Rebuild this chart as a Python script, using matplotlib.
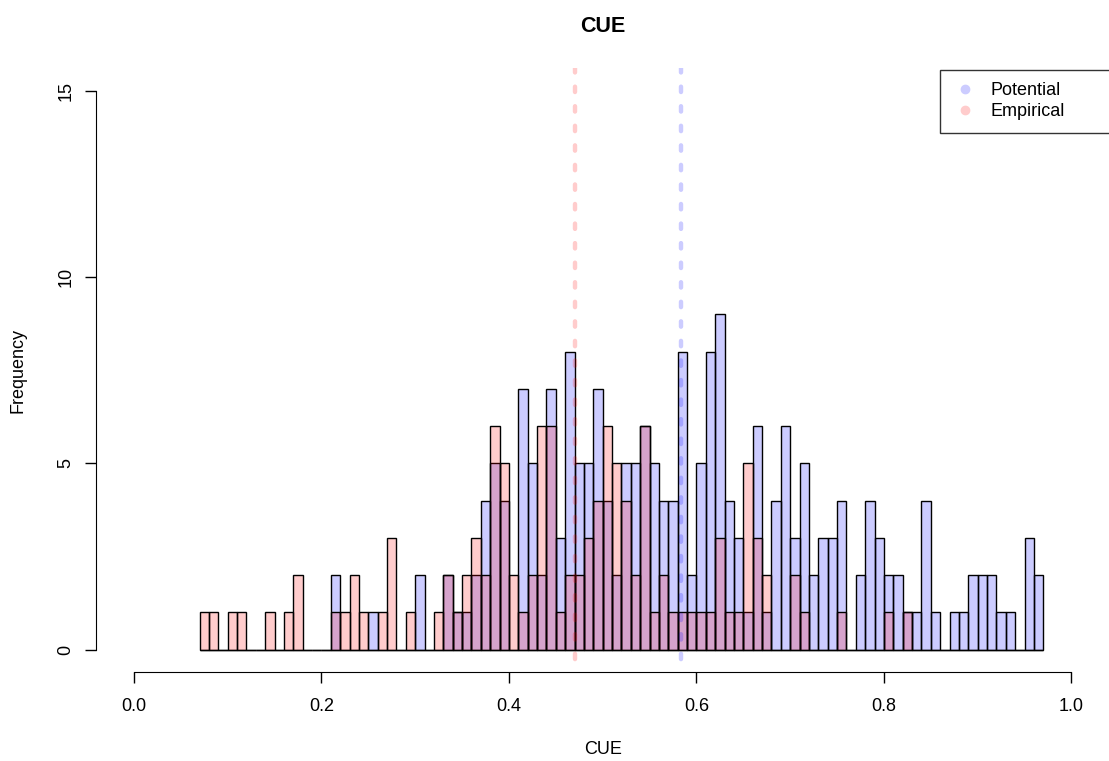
import numpy as np
import matplotlib
matplotlib.use("Agg")
import matplotlib.pyplot as plt
from matplotlib.lines import Line2D

plt.rcParams['font.family'] = ['Liberation Sans', 'DejaVu Sans']

# bin left edges, width 0.01, from 0.07 to 0.96
bin_start = np.round(np.arange(0.07, 0.965, 0.01), 2)

# counts per bin, keyed by bin start in hundredths
potential_counts = {21: 2, 25: 1, 30: 2, 33: 2, 34: 1, 35: 1, 36: 2, 37: 4, 38: 5, 39: 4,
                    41: 7, 42: 5, 43: 2, 44: 7, 45: 3, 46: 8, 47: 5, 48: 5, 49: 7, 50: 4,
                    51: 2, 52: 5, 53: 5, 54: 6, 55: 5, 56: 4, 57: 4, 58: 8, 59: 2, 60: 5,
                    61: 8, 62: 9, 63: 4, 64: 3, 65: 1, 66: 6, 67: 1, 68: 4, 69: 6, 70: 3,
                    71: 5, 72: 2, 73: 3, 74: 3, 75: 4, 77: 2, 78: 4, 79: 3, 80: 2, 81: 2,
                    82: 1, 83: 1, 84: 4, 85: 1, 87: 1, 88: 1, 89: 2, 90: 2, 91: 2, 92: 1,
                    93: 1, 95: 3, 96: 2}
empirical_counts = {7: 1, 8: 1, 10: 1, 11: 1, 14: 1, 16: 1, 17: 2, 21: 1, 22: 1, 23: 2,
                    24: 1, 26: 1, 27: 3, 29: 1, 32: 1, 33: 2, 34: 1, 35: 2, 36: 3, 37: 2,
                    38: 6, 39: 5, 40: 2, 41: 1, 42: 2, 43: 6, 44: 6, 45: 1, 46: 2, 47: 2,
                    48: 3, 49: 4, 50: 6, 51: 5, 52: 4, 53: 2, 54: 6, 55: 1, 56: 2, 57: 1,
                    58: 1, 59: 1, 60: 1, 61: 1, 62: 3, 63: 1, 64: 1, 65: 5, 66: 3, 67: 2,
                    70: 2, 71: 1, 75: 1, 80: 1, 82: 1}

potential_mean = 0.584
empirical_mean = 0.470

pot = np.array([potential_counts.get(int(round(b * 100)), 0) for b in bin_start])
emp = np.array([empirical_counts.get(int(round(b * 100)), 0) for b in bin_start])

blue = (0, 0, 1, 0.2)
red = (1, 0, 0, 0.2)

fig = plt.figure(figsize=(11.09, 7.61), dpi=100)
ax = fig.add_axes([0.087, 0.117, 0.913, 0.793])

ax.bar(bin_start, pot, width=0.01, align='edge', color=blue, edgecolor='black', linewidth=1)
ax.bar(bin_start, emp, width=0.01, align='edge', color=red, edgecolor='black', linewidth=1)

for m, c in [(potential_mean, blue), (empirical_mean, red)]:
    ln = ax.axvline(m, color=c, lw=3.2, ls=(1.5, (1.2, 3.2)))
    ln.set_dash_capstyle('round')

ax.set_xlim(-0.04, 1.04)
ax.set_ylim(-0.6, 15.6)
for s in ['top', 'right']:
    ax.spines[s].set_visible(False)
ax.spines['left'].set_bounds(0, 15)
ax.spines['bottom'].set_bounds(0, 1)
ax.set_xticks(np.arange(0, 1.01, 0.2))
ax.set_xticklabels(['0.0', '0.2', '0.4', '0.6', '0.8', '1.0'])
ax.set_yticks([0, 5, 10, 15])
ax.set_yticklabels(['0', '5', '10', '15'], rotation=90, va='center')
ax.tick_params(labelsize=13, length=8, width=1)
ax.tick_params(axis='x', pad=11)
ax.tick_params(axis='y', pad=8)

ax.set_xlabel('CUE', fontsize=13)
ax.xaxis.set_label_coords(0.5, -0.129)
ax.xaxis.label.set_va('center')
ax.set_ylabel('Frequency', fontsize=13)
ax.yaxis.set_label_coords(-0.0775, 0.5)
ax.yaxis.label.set_va('center')
ax.text(0.5, 1.069, 'CUE', transform=ax.transAxes, ha='center', va='center',
        fontsize=15.5, fontweight='bold')

handles = [Line2D([], [], marker='o', ls='', color=(0.8, 0.8, 1.0), markersize=6),
           Line2D([], [], marker='o', ls='', color=(1.0, 0.8, 0.8), markersize=6)]
leg = ax.legend(handles, ['Potential', 'Empirical'], loc='upper left', fontsize=13,
                bbox_to_anchor=(0.833, 0.0, 0.3, 0.998), mode='expand',
                frameon=True, fancybox=False, borderaxespad=0, handletextpad=0.7,
                labelspacing=0.2, borderpad=0.7, handlelength=1.4)
leg.get_frame().set_edgecolor('black')
leg.get_frame().set_linewidth(1)

fig.savefig('out.png', dpi=100)
